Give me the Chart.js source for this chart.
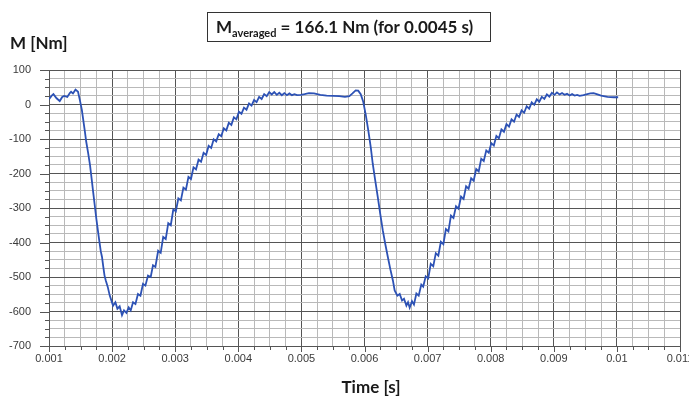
<!DOCTYPE html>
<html>
<head>
<meta charset="utf-8">
<script src="https://cdn.jsdelivr.net/npm/chart.js@4.4.1/dist/chart.umd.min.js"></script>
<style>
  html, body { margin: 0; padding: 0; background: #fff; }
  #wrap { width: 689px; height: 399px; }
</style>
</head>
<body>
<div id="wrap"><canvas id="torque-chart" width="689" height="399"></canvas></div>
<script>
const torqueChart = document.getElementById("torque-chart");

// tick labels
const timeTicks = [0.001, 0.002, 0.003, 0.004, 0.005, 0.006, 0.007, 0.008, 0.009, 0.01, 0.011];
const torqueTicks = [100, 0, -100, -200, -300, -400, -500, -600, -700];

// curve, [time s, torque Nm]
const startPlateau = [
  [0.00100, 15], [0.00104, 25], [0.00107, 30], [0.00112, 18], [0.00117, 10], [0.00121, 22],
  [0.00124, 25], [0.00129, 22], [0.00133, 33], [0.00135, 37], [0.00138, 32], [0.00142, 43],
  [0.00146, 37], [0.00149, 12]
];
const firstDrop = [
  [0.00152, -15], [0.00154, -41], [0.00157, -80], [0.00159, -108], [0.00162, -140], [0.00165, -176],
  [0.00168, -222], [0.00170, -254], [0.00173, -300], [0.00175, -331], [0.00178, -372], [0.00180, -399],
  [0.00182, -425], [0.00184, -442], [0.00186, -470], [0.00188, -496], [0.00190, -510], [0.00193, -528]
];
const firstTrough = [
  [0.001963, -554], [0.002015, -583], [0.002052, -573], [0.002084, -592], [0.00212, -585],
  [0.002157, -611], [0.002189, -597], [0.002227, -604], [0.002263, -588], [0.002295, -597],
  [0.002332, -573], [0.00237, -578], [0.00241, -549], [0.002449, -554], [0.00249, -520],
  [0.002528, -525], [0.002569, -496], [0.002612, -500], [0.002648, -466], [0.002686, -471]
];
const firstRise = [
  [0.00273, -424], [0.00277, -430], [0.00281, -384], [0.00285, -390], [0.00289, -344], [0.00293, -350],
  [0.00297, -304], [0.00301, -310], [0.00305, -272], [0.00309, -278], [0.00313, -241], [0.00317, -247],
  [0.00321, -210], [0.00325, -216], [0.00329, -182], [0.00333, -188], [0.00337, -160], [0.00341, -166],
  [0.00345, -140], [0.00349, -146], [0.00353, -120], [0.00357, -126], [0.00361, -101], [0.00365, -107],
  [0.00369, -86], [0.00373, -92], [0.00377, -69], [0.00381, -75], [0.00385, -53], [0.00389, -59],
  [0.00393, -37], [0.00397, -43], [0.00401, -21], [0.00405, -27], [0.00409, -9], [0.00413, -15],
  [0.00417, 3], [0.00421, -3], [0.00425, 13], [0.00429, 7], [0.00433, 22], [0.00437, 16],
  [0.00441, 30], [0.00445, 24], [0.00449, 36], [0.00453, 29], [0.00457, 36], [0.00461, 28],
  [0.00465, 34], [0.00469, 27], [0.00473, 33], [0.00477, 27], [0.00481, 32], [0.00485, 27],
  [0.00489, 30], [0.00493, 27]
];
const midPlateau = [
  [0.00499, 28], [0.00505, 30], [0.00512, 33], [0.00520, 32], [0.00530, 28], [0.00540, 26],
  [0.00550, 25], [0.00560, 24], [0.00569, 22], [0.00576, 24], [0.00581, 32], [0.00586, 41],
  [0.00590, 40], [0.00594, 30], [0.00598, 8]
];
const secondDrop = [
  [0.00602, -30], [0.00606, -75], [0.00610, -125], [0.00613, -171], [0.00617, -220], [0.00621, -268],
  [0.00625, -318], [0.00629, -365], [0.00633, -405], [0.00637, -442], [0.00641, -478], [0.00645, -510]
];
const secondTrough = [
  [0.006478, -539], [0.006521, -554], [0.006558, -549], [0.006595, -568], [0.006626, -563],
  [0.006664, -583], [0.00669, -573], [0.006716, -589], [0.006753, -570], [0.006784, -580],
  [0.006822, -548], [0.006859, -554], [0.0069, -522], [0.00693, -528], [0.00697, -498], [0.00701, -504]
];
const secondRise = [
  [0.00705, -462], [0.00709, -469], [0.00713, -431], [0.00717, -438], [0.00721, -398], [0.00725, -405],
  [0.00729, -361], [0.00733, -368], [0.00737, -322], [0.00741, -329], [0.00745, -295], [0.00749, -302],
  [0.00753, -267], [0.00757, -274], [0.00761, -237], [0.00765, -244], [0.00769, -214], [0.00773, -221],
  [0.00777, -187], [0.00781, -194], [0.00785, -157], [0.00789, -164], [0.00793, -133], [0.00797, -140],
  [0.00801, -112], [0.00805, -119], [0.00809, -91], [0.00813, -98], [0.00817, -72], [0.00821, -79],
  [0.00825, -57], [0.00829, -64], [0.00833, -43], [0.00837, -50], [0.00841, -29], [0.00845, -36],
  [0.00849, -17], [0.00853, -24], [0.00857, -5], [0.00861, -12], [0.00865, 6], [0.00869, -1],
  [0.00873, 15], [0.00877, 8], [0.00881, 22], [0.00885, 16], [0.00889, 29], [0.00893, 23],
  [0.00897, 34], [0.00901, 28], [0.00905, 35], [0.00909, 29], [0.00913, 33], [0.00917, 28],
  [0.00921, 31], [0.00925, 26], [0.00929, 30], [0.00933, 26], [0.00937, 28], [0.00941, 25]
];
const endPlateau = [
  [0.00947, 27], [0.00953, 30], [0.00958, 32], [0.00963, 33], [0.00968, 30], [0.00975, 26],
  [0.00985, 22], [0.00995, 21], [0.01002, 21]
];

const curve = [].concat(startPlateau, firstDrop, firstTrough, firstRise, midPlateau,
  secondDrop, secondTrough, secondRise, endPlateau).map(p => ({ x: p[0], y: p[1] }));

// majors from the label arrays, 3 minor lines between each pair
function withMinors(majors) {
  const out = [];
  majors.forEach((v, i) => {
    out.push({ value: v });
    if (i < majors.length - 1) {
      const step = (majors[i + 1] - v) / 4;
      for (let k = 1; k < 4; k++) out.push({ value: v + step * k, minor: true });
    }
  });
  return out;
}

const MAJOR = "#555555";
const MINOR = "#b9b9b9";

const overlay = {
  id: "overlay",
  afterDraw(chart) {
    const ctx = chart.ctx;
    const xs = chart.scales.x;
    const ys = chart.scales.y;
    ctx.save();

    // little tick marks outside the frame
    ctx.strokeStyle = MAJOR;
    ctx.lineWidth = 1;
    ys.ticks.forEach(t => {
      const py = Math.round(ys.getPixelForValue(t.value)) + 0.5;
      const len = t.minor ? 4 : 9;
      ctx.beginPath();
      ctx.moveTo(xs.left - len, py);
      ctx.lineTo(xs.left, py);
      ctx.stroke();
    });
    xs.ticks.forEach(t => {
      const px = Math.round(xs.getPixelForValue(t.value)) + 0.5;
      const len = t.minor ? 4 : 6;
      ctx.beginPath();
      ctx.moveTo(px, ys.bottom);
      ctx.lineTo(px, ys.bottom + len);
      ctx.stroke();
    });

    ctx.fillStyle = "#1a1a1a";
    ctx.textBaseline = "alphabetic";

    ctx.font = "bold 17px Lato";
    ctx.textAlign = "left";
    ctx.fillText("M [Nm]", 10, 49);

    ctx.textAlign = "center";
    ctx.fillText("Time [s]", 371, 393);

    // boxed average
    ctx.strokeStyle = "#333";
    ctx.strokeRect(207.5, 12.5, 283, 29);
    ctx.textAlign = "left";
    let tx = 216;
    ctx.font = "bold 17px Lato";
    ctx.fillText("M", tx, 33);
    tx += ctx.measureText("M").width;
    ctx.font = "bold 11px Lato";
    ctx.fillText("averaged", tx, 37);
    tx += ctx.measureText("averaged").width;
    ctx.font = "bold 17px Lato";
    ctx.fillText(" = 166.1 Nm (for 0.0045 s)", tx, 33);

    ctx.restore();
  }
};

new Chart(torqueChart, {
  type: "line",
  data: {
    datasets: [
      {
        label: "M",
        data: curve,
        borderColor: "#2d52b5",
        borderWidth: 1.8,
        pointRadius: 0,
        fill: false,
        tension: 0,
      },
    ],
  },
  options: {
    responsive: false,
    animation: false,
    devicePixelRatio: 1,
    layout: { padding: { top: 70, right: 9, bottom: 0, left: 0 } },
    plugins: {
      legend: { display: false },
      tooltip: { enabled: false },
    },
    scales: {
      x: {
        type: "linear",
        min: timeTicks[0],
        max: timeTicks[timeTicks.length - 1],
        afterBuildTicks: s => { s.ticks = withMinors(timeTicks); },
        afterFit: s => { s.height = 53; s.paddingLeft = 0; s.paddingRight = 0; },
        grid: {
          color: c => (c.tick && c.tick.minor ? MINOR : MAJOR),
          drawTicks: false,
        },
        border: { color: MAJOR },
        ticks: {
          autoSkip: false,
          maxRotation: 0,
          minRotation: 0,
          padding: 6,
          color: "#3a3a3a",
          font: { family: "Liberation Sans", size: 11 },
          callback: (v, i, ticks) => (ticks[i].minor ? "" : String(Number(v.toFixed(3)))),
        },
      },
      y: {
        min: torqueTicks[torqueTicks.length - 1],
        max: torqueTicks[0],
        afterBuildTicks: s => { s.ticks = withMinors(torqueTicks.slice().reverse()); },
        afterFit: s => { s.width = 49; },
        grid: {
          color: c => (c.tick && c.tick.minor ? MINOR : MAJOR),
          drawTicks: false,
        },
        border: { color: MAJOR },
        ticks: {
          autoSkip: false,
          padding: 18,
          color: "#3a3a3a",
          font: { family: "Liberation Sans", size: 11 },
          callback: (v, i, ticks) => (ticks[i].minor ? "" : String(v)),
        },
      },
    },
  },
  plugins: [overlay],
});
</script>
</body>
</html>
